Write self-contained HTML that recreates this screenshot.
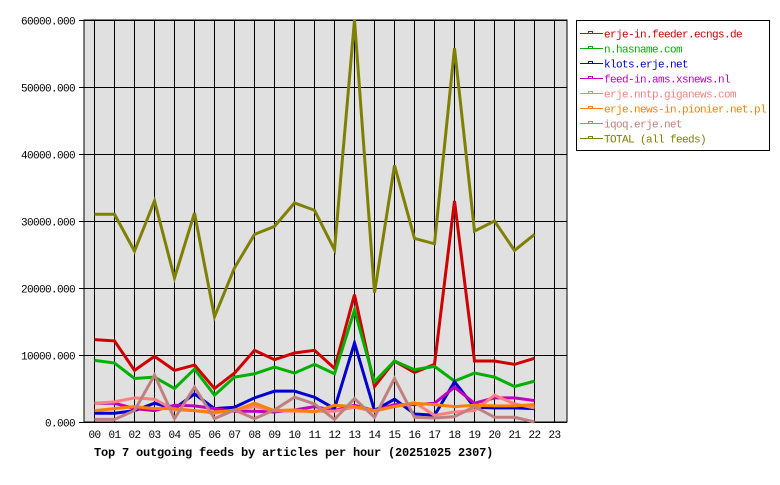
<!DOCTYPE html>
<html><head><style>body{margin:0;background:#fff}svg text{font-family:"Liberation Mono","DejaVu Sans Mono",monospace;font-size:11px;letter-spacing:-0.6px}</style></head><body>
<svg width="780" height="480" xmlns="http://www.w3.org/2000/svg">
<rect x="84" y="20" width="483" height="402" fill="#e0e0e0" stroke="#000"/>
<g id="grid" stroke="#000" stroke-width="1"></g>
<g id="lbl"></g>
<g id="series" fill="none" stroke-width="3" stroke-linejoin="miter"></g>
<text x="94" y="456" style="font-weight:bold;font-size:12px;letter-spacing:-0.2px">Top 7 outgoing feeds by articles per hour (20251025 2307)</text>
<rect x="576.5" y="20.5" width="193" height="130" fill="#fff" stroke="#000"/>
<g id="leg"></g>
</svg>
<script>
const ns="http://www.w3.org/2000/svg";
function el(p,t,a,txt){const e=document.createElementNS(ns,t);for(const k in a)e.setAttribute(k,a[k]);if(txt!=null)e.textContent=txt;document.getElementById(p).appendChild(e);}
for(let i=0;i<24;i++){const x=94.5+20*i;el("grid","line",{x1:x,y1:20,x2:x,y2:422});el("lbl","text",{x:x-6,y:438},String(i).padStart(2,"0"));}
for(let j=0;j<=6;j++){const y=422.5-67*j;el("grid","line",{x1:79,y1:y,x2:567,y2:y});el("lbl","text",{x:75,y:y+4,"text-anchor":"end"},(j*10000)+".000");}
const S=[
["TOTAL (all feeds)","#808000",[31000,31000,25500,33000,21500,31200,15700,23000,28000,29200,32700,31600,25700,60000,19300,38300,27400,26600,55800,28500,30000,25600,28000]],
["erje-in.feeder.ecngs.de","#d00000",[12300,12100,7700,9800,7700,8500,5000,7300,10700,9300,10300,10700,8000,19000,5300,9100,7400,8600,33000,9100,9100,8600,9500]],
["n.hasname.com","#00b000",[9200,8800,6500,6700,5000,7900,4000,6700,7200,8200,7300,8600,7200,16700,6000,9100,7800,8300,6100,7300,6700,5300,6100]],
["klots.erje.net","#0000d0",[1300,1300,1700,2800,2000,4200,2000,2200,3600,4600,4600,3700,2000,11800,1700,3400,1200,1000,6000,2200,2100,2100,2000]],
["feed-in.ams.xsnews.nl","#c000c0",[2800,2800,2000,1700,2500,2400,2000,1600,1600,1500,1800,2300,1700,2500,1700,2600,2600,2800,5200,2800,3600,3600,3200]],
["erje.nntp.giganews.com","#ff8080",[2800,3000,3600,3400,1800,1700,1300,1800,2300,1700,1600,1600,1600,2200,1600,2300,2900,1000,1500,1700,4000,2700,2100]],
["erje.news-in.pionier.net.pl","#ff8000",[1700,2000,2300,2000,2000,1700,1500,1700,2800,1700,1800,1500,2500,2300,1700,2300,2800,2600,2300,2500,2400,2400,2600]],
["iqoq.erje.net","#c08080",[400,400,1700,7000,500,5200,500,1800,500,1800,3700,2700,400,3500,700,6500,700,600,800,2300,700,700,0]]];
const draw=[1,2,3,4,5,6,7,0];
for(const k of draw){const s=S[k];el("series","polyline",{stroke:s[1],points:s[2].map((v,i)=>(94.5+20*i)+","+(422-v*402/60000)).join(" ")});}
const order=[1,2,3,4,5,6,7,0];
order.forEach((k,i)=>{const s=S[k],y=33.5+15*i;el("leg","line",{x1:580,y1:y,x2:603,y2:y,stroke:s[1],"stroke-width":1});el("leg","rect",{x:588.5,y:y-2,width:4,height:2,fill:"none",stroke:s[1],"stroke-width":1});el("leg","text",{x:604,y:y+4,fill:s[1]},s[0]);});
</script>
</body></html>
